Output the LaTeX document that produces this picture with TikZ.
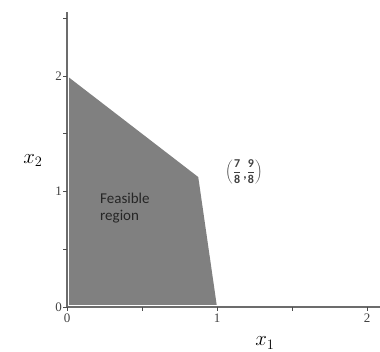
\documentclass[tikz,border=0pt]{standalone}
\usepackage{fontspec}
\setmainfont{Liberation Serif}
\newfontfamily\calibri{Carlito}
\newcommand{\cdig}[1]{\hbox{\calibri\bfseries\fontsize{12}{12}\selectfont #1}}
\begin{document}
\begin{tikzpicture}[x=150pt,y=115.5pt,
  axisline/.style={draw=gray!85!black,line width=1.6pt},
  tickmark/.style={draw=black!70,line width=0.8pt},
  ticklabel/.style={font=\fontsize{13}{13}\selectfont,text=black!75,inner sep=1pt}]
\useasboundingbox (-67pt,-45pt) rectangle (313pt,307pt);
\definecolor{regiongray}{HTML}{808080}
% feasible region
\coordinate (O) at (0,0);
\coordinate (A) at (0,2);
\coordinate (V) at (7/8,9/8);
\coordinate (B) at (1,0);
\fill[regiongray] (O) -- (A) -- (V) -- (B) -- cycle;
% white seams
\draw[white,line width=1pt] (1.5pt,0) -- (1.5pt,2);
\draw[white,line width=1pt] (0,1.5pt) -- (1,1.5pt);
% axes
\draw[axisline] (0,0) -- (0,2.55);
\draw[axisline] (0,0) -- (2.09,0);
% ticks
\foreach \y in {0,0.5,1,1.5,2,2.5} \draw[tickmark] (0,\y) -- ++(-4pt,0);
\foreach \x in {0,0.5,1,1.5,2} \draw[tickmark] (\x,0) -- ++(0,-4pt);
% tick labels
\node[ticklabel,anchor=east] (y0) at (-4pt,0) {0};
\node[ticklabel,anchor=east] (y1) at (-4pt,1) {1};
\node[ticklabel,anchor=east] (y2) at (-4pt,2) {2};
\node[ticklabel,anchor=north] (x0) at (0,-6pt) {0};
\node[ticklabel,anchor=north] (x1) at (1,-6pt) {1};
\node[ticklabel,anchor=north] (x2) at (2,-6pt) {2};
% axis titles
\node (lx2) at (-34pt,1.27) {\fontsize{20}{20}\selectfont $x_2$};
\node (lx1) at (198pt,-36pt) {\fontsize{20}{20}\selectfont $x_1$};
% labels
\node[anchor=north west,align=left,font=\calibri\fontsize{15}{17}\selectfont,text=black!85,inner sep=0pt] (feas) at (33pt,114pt) {Feasible\\region};
\node[text=black!75,inner sep=0pt] (vlab) at (177pt,135pt)
  {\fontsize{13}{13}\selectfont$\displaystyle\left(\frac{\cdig{7}}{\cdig{8}}\,\raise-3pt\hbox{\calibri\bfseries ,}\frac{\cdig{9}}{\cdig{8}}\right)$};
\end{tikzpicture}
\end{document}
